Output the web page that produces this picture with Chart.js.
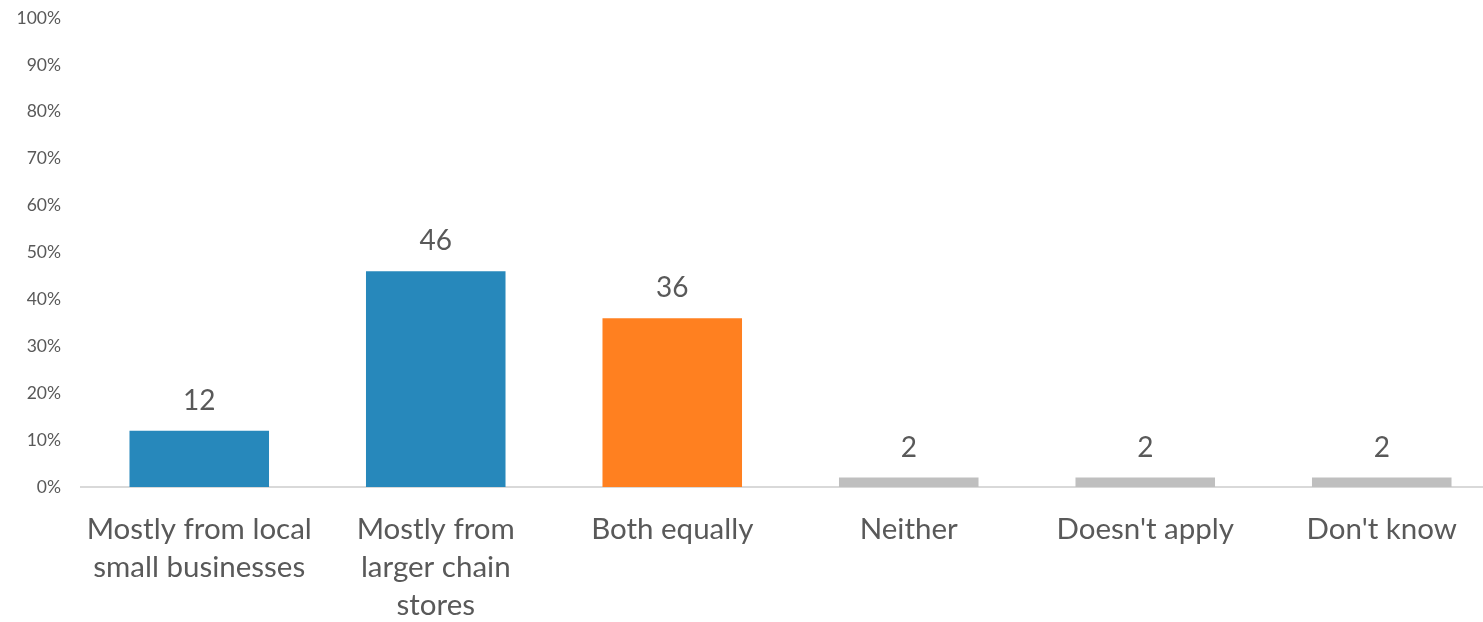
<!DOCTYPE html>
<html>
<head>
<meta charset="utf-8">
<script src="https://cdn.jsdelivr.net/npm/chart.js@4"></script>
<style>
  html, body { margin: 0; padding: 0; background: #fff; overflow: hidden; }
  #wrap { width: 1500px; height: 622px; }
</style>
</head>
<body>
<div id="wrap"><canvas id="shopChart" width="1500" height="622"></canvas></div>
<script>
// Where people do most of their shopping (%)
const categories = [
    ['Mostly from local', 'small businesses'],
    ['Mostly from', 'larger chain', 'stores'],
    'Both equally',
    'Neither',
    "Doesn't apply",
    "Don't know"
];
const shares = [12, 46, 36, 2, 2, 2];
const barColors = ['#2788bb', '#2788bb', '#ff8020', '#bfbfbf', '#bfbfbf', '#bfbfbf'];
const yTicks = [0, 10, 20, 30, 40, 50, 60, 70, 80, 90, 100];

const FONT = 'Lato, "Open Sans", sans-serif';
const TEXT = '#595959';

// Draws the number above each bar
const valueLabels = {
    id: 'valueLabels',
    afterDatasetsDraw(chart) {
        const ctx = chart.ctx;
        const meta = chart.getDatasetMeta(0);
        ctx.save();
        ctx.font = '28px ' + FONT;
        ctx.fillStyle = TEXT;
        ctx.textAlign = 'center';
        ctx.textBaseline = 'middle';
        meta.data.forEach((bar, i) => {
            ctx.fillText(String(shares[i]), bar.x, bar.y - 30);
        });
        ctx.restore();
    }
};

const ctx = document.getElementById('shopChart').getContext('2d');
new Chart(ctx, {
    type: 'bar',
    data: {
        labels: categories,
        datasets: [{
            data: shares,
            backgroundColor: barColors,
            borderWidth: 0,
            barPercentage: 0.59,
            categoryPercentage: 1
        }]
    },
    options: {
        responsive: false,
        animation: false,
        layout: { padding: { top: 18, right: 0, left: 0, bottom: 0 } },
        plugins: {
            legend: { display: false },
            tooltip: { enabled: false }
        },
        scales: {
            y: {
                min: 0,
                max: 100,
                afterBuildTicks: scale => { scale.ticks = yTicks.map(v => ({ value: v })); },
                afterFit: scale => {
                    scale.width = 81;
                    scale.paddingTop = 0;
                    scale.paddingBottom = 0;
                },
                grid: { display: false, drawTicks: false },
                border: { display: false },
                ticks: {
                    padding: 20,
                    color: TEXT,
                    font: { family: FONT, size: 17.5 },
                    callback: v => v + '%'
                }
            },
            x: {
                afterFit: scale => { scale.height = 135; },
                grid: { display: false, drawTicks: false },
                border: { display: true, color: '#d9d9d9', width: 2 },
                ticks: {
                    padding: 23,
                    color: TEXT,
                    maxRotation: 0,
                    autoSkip: false,
                    font: { family: FONT, size: 29.5, lineHeight: 1.3 }
                }
            }
        }
    },
    plugins: [valueLabels]
});
</script>
</body>
</html>
